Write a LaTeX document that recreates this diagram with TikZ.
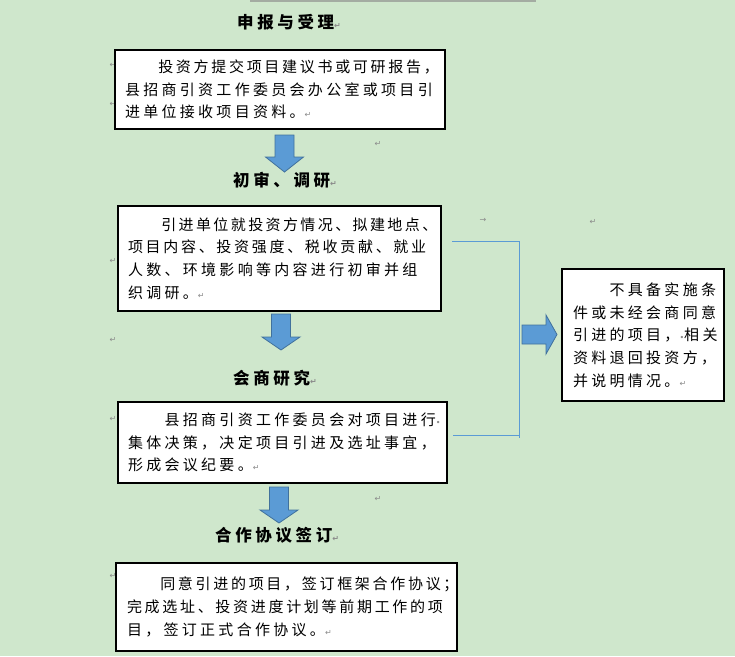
\documentclass[tikz,border=0pt]{standalone}
\usepackage{fontspec}
\usetikzlibrary{calc}
\newfontfamily\cjk[LetterSpace=22]{Noto Sans CJK SC}
\newfontfamily\cjkm[LetterSpace=18]{Noto Sans CJK SC}
\newfontfamily\cjkn[LetterSpace=16]{Noto Sans CJK SC}
\newfontfamily\cjkhd[LetterSpace=22]{Noto Sans CJK SC}
\newfontfamily\dejavu{DejaVu Sans}
\definecolor{bg}{HTML}{CFE7CC}
\definecolor{blu}{HTML}{5B9BD5}
\definecolor{bluedge}{HTML}{41719C}
\definecolor{mk}{HTML}{8A8A8A}
\definecolor{topbar}{HTML}{A4ACA2}
\hfuzz=100pt \hbadness=10000
\newcommand{\bodyfont}{\cjk\fontsize{15}{22.7}\selectfont}
\newcommand{\headfont}{\cjkhd\bfseries\fontsize{16.5}{18}\selectfont}
\newcommand{\tightline}[1]{{\cjkn #1}}
\newcommand{\midline}[1]{{\cjkm #1}}
\newcommand{\parmark}{{\dejavu\fontsize{8}{8}\selectfont\textcolor{mk}{↵}}}
\newcommand{\tabmark}{{\dejavu\fontsize{8}{8}\selectfont\textcolor{mk}{→}}}
\newcommand{\spmark}{{\dejavu\fontsize{8}{8}\selectfont\textcolor{mk}{•}}}
\tikzset{
  box/.style={draw=black,line width=1.1pt,fill=white,align=left,inner xsep=10pt,inner ysep=0pt,font=\bodyfont},
  hd/.style={anchor=west,inner sep=0pt,font=\headfont},
  blk/.style={fill=blu,draw=bluedge,line width=0.8pt,line join=miter},
  brk/.style={draw=blu,line width=0.9pt},
  pm/.style={inner sep=0pt},
}
\begin{document}
\begin{tikzpicture}[x=1pt,y=-1pt]
\fill[bg] (0,0) rectangle (735,656);
\useasboundingbox (0,0) rectangle (735,656);
\fill[topbar] (250,0) rectangle (536,2);
% stray paragraph marks on the left
\foreach \y [count=\i] in {65,104,261,340,419,576}
  \node[pm] (lm\i) at (113,\y) {\parmark};
\node[pm] (m1) at (378,144) {\parmark};
\node[pm] (m2) at (378,499) {\parmark};
\node[pm] (m3) at (483,220) {\tabmark};
\node[pm] (m4) at (593,222) {\parmark};
% headings
\node[hd] (h1) at (237,22) {申报与受理\parmark};
\node[hd] (h2) at (233,180) {初审、调研\parmark};
\node[hd] (h3) at (233,378) {会商研究\parmark};
\node[hd] (h4) at (215,535) {合作协议签订\parmark};
% boxes
\node[box,text width=310pt,minimum height=79pt] (apply) at (280,89.5)
 {　　\midline{投资方提交项目建议书或可研报告，}\\县招商引资工作委员会办公室或项目引\\进单位接收项目资料。\parmark};
\node[box,text width=303pt,minimum height=105pt] (review) at (279.5,258.5)
 {　　\tightline{引进单位就投资方情况、拟建地点、}\\\midline{项目内容、投资强度、税收贡献、就业}\\人数、环境影响等内容进行初审并组\\织调研。\parmark};
\node[box,text width=309pt,minimum height=81pt] (confer) at (282.5,442.5)
 {　　县招商引资工作委员会对项目进行\spmark\\集体决策，决定项目引进及选址事宜，\\形成会议纪要。\parmark};
\node[box,text width=319pt,inner xsep=11pt,minimum height=88pt] (sign) at (286.5,607)
 {　　\midline{同意引进的项目，签订框架合作协议；}\\\midline{完成选址、投资进度计划等前期工作的项}\\目，签订正式合作协议。\parmark};
\node[box,text width=140pt,inner xsep=11pt,minimum height=132pt] (reject) at (643,335)
 {　　不具备实施条\\件或未经会商同意\\引进的项目，\spmark 相关\\资料退回投资方，\\并说明情况。\parmark};
% block arrows down
\foreach \cx/\ta/\hb/\tb in {284.5/135/157/172,281/314/337/350,279/487/510/523}
  \draw[blk] (\cx-9.5,\ta) -- (\cx+9.5,\ta) -- (\cx+9.5,\hb) -- (\cx+19,\hb)
    -- (\cx,\tb) -- (\cx-19,\hb) -- (\cx-9.5,\hb) -- cycle;
% bracket and arrow to the right box
\coordinate (b1) at (452,241);
\coordinate (b2) at (519,438);
\coordinate (b3) at (453,435);
\coordinate (b4) at (519,435);
\draw[brk] (b1) -| (b2);
\draw[brk] (b3) -- (b4);
\draw[blk] (522,325) -- (546,325) -- (546,315) -- (557,334.5) -- (546,354)
  -- (546,344) -- (522,344) -- cycle;
\end{tikzpicture}
\end{document}
